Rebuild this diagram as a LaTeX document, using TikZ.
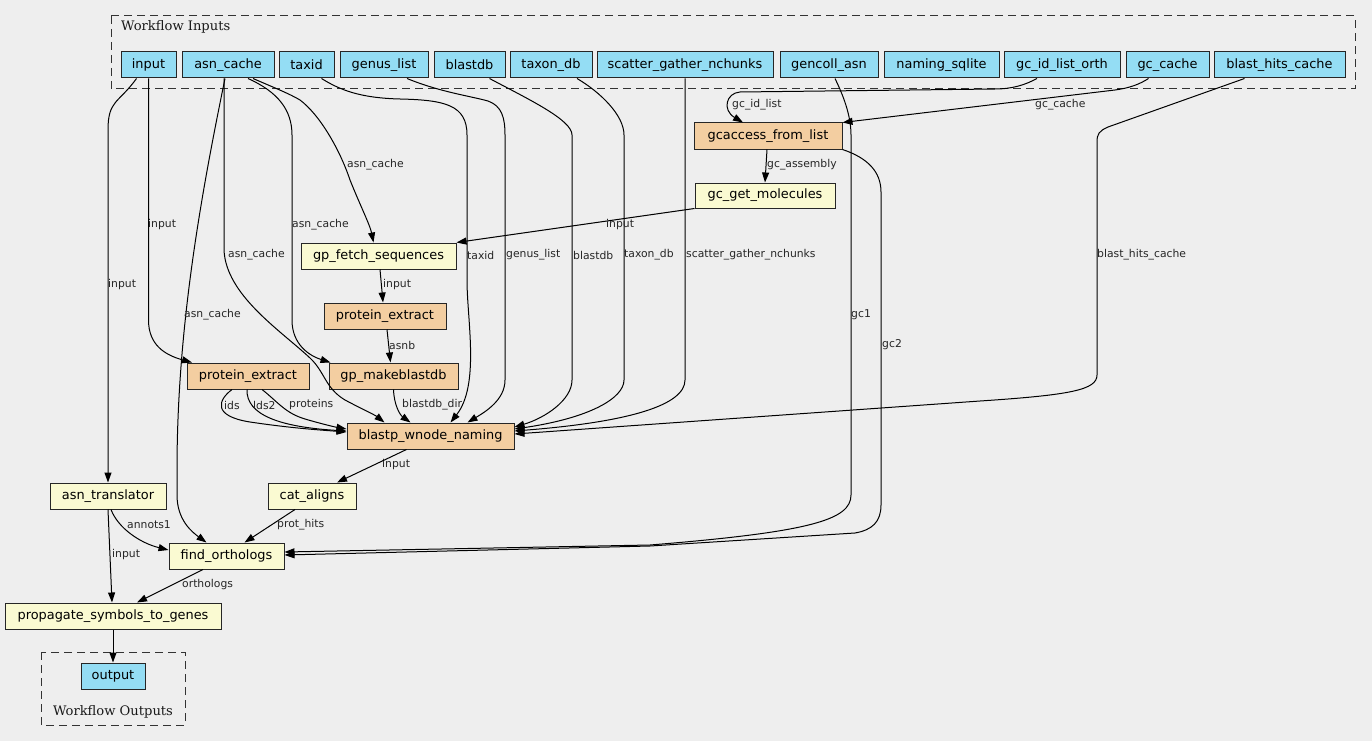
\documentclass[tikz,border=0pt]{standalone}
\usepackage{fontspec}
\setmainfont{DejaVu Sans}
\newfontfamily\serifl{DejaVu Serif}
\usetikzlibrary{arrows.meta,calc}
\definecolor{bgc}{HTML}{EEEEEE}
\definecolor{inpc}{HTML}{94DDF4}
\definecolor{stepc}{HTML}{F3CEA1}
\definecolor{toolc}{HTML}{FAFAD2}
\begin{document}
\begin{tikzpicture}[x=1pt,y=-1pt,
 box/.style={draw=black!85,line width=1pt,minimum height=26pt,inner sep=0pt,font=\fontsize{12.9}{15}\selectfont},
 inp/.style={box,fill=inpc},
 wf/.style={box,fill=stepc},
 tool/.style={box,fill=toolc},
 e/.style={draw=black,line width=1pt,-{Triangle[length=10pt,width=7pt]}},
 lab/.style={anchor=west,inner sep=0pt,font=\fontsize{10.8}{12}\selectfont,text=black!85},
 clus/.style={draw=black!80,line width=1pt,dash pattern=on 8pt off 5pt},
 cluslab/.style={inner sep=0pt,font=\serifl\fontsize{13.1}{15}\selectfont,text=black!90},
]
\fill[bgc] (0,0) rectangle (1372,741);
\useasboundingbox (0,0) rectangle (1372,741);

% clusters
\draw[clus] (111,16) rectangle (1355,89);
\node[cluslab,anchor=west] (inlab) at (121,27) {Workflow Inputs};
\draw[clus] (41,652) rectangle (185,725);
\node[cluslab] (outlab) at (113,712) {Workflow Outputs};

% inputs
\node[inp,minimum width=55pt] (input) at (148.5,65) {input};
\node[inp,minimum width=92pt] (asn_cache) at (228,65) {asn\_cache};
\node[inp,minimum width=55pt] (taxid) at (306.5,65) {taxid};
\node[inp,minimum width=88pt] (genus_list) at (384,65) {genus\_list};
\node[inp,minimum width=71pt] (blastdb) at (469.5,65) {blastdb};
\node[inp,minimum width=82pt] (taxon_db) at (551,65) {taxon\_db};
\node[inp,minimum width=176pt] (scatter) at (685,65) {scatter\_gather\_nchunks};
\node[inp,minimum width=98pt] (gencoll_asn) at (829,65) {gencoll\_asn};
\node[inp,minimum width=115pt] (naming_sqlite) at (941.5,65) {naming\_sqlite};
\node[inp,minimum width=116pt] (gc_id_list_orth) at (1062,65) {gc\_id\_list\_orth};
\node[inp,minimum width=83pt] (gc_cache) at (1167.5,65) {gc\_cache};
\node[inp,minimum width=131pt] (blast_hits_cache) at (1279.5,65) {blast\_hits\_cache};

% steps
\node[wf,minimum width=148pt] (gcaccess) at (768,136) {gcaccess\_from\_list};
\node[tool,minimum width=140pt,minimum height=25pt] (gc_get) at (765,195.5) {gc\_get\_molecules};
\node[tool,minimum width=155pt] (gp_fetch) at (378.5,256) {gp\_fetch\_sequences};
\node[wf,minimum width=122pt] (pe2) at (385,316) {protein\_extract};
\node[wf,minimum width=129pt] (gp_makeblastdb) at (393.5,376) {gp\_makeblastdb};
\node[wf,minimum width=122pt] (pe1) at (248,376) {protein\_extract};
\node[wf,minimum width=167pt] (blastp) at (430.5,436) {blastp\_wnode\_naming};
\node[tool,minimum width=116pt] (asn_translator) at (108,496) {asn\_translator};
\node[tool,minimum width=88pt] (cat_aligns) at (312,496) {cat\_aligns};
\node[tool,minimum width=115pt] (find_orthologs) at (226.5,556) {find\_orthologs};
\node[tool,minimum width=216pt] (propagate) at (113,616) {propagate\_symbols\_to\_genes};
\node[inp,minimum width=64pt] (output) at (113,676) {output};

% edges
\draw[e] ([xshift=-12]input.south) .. controls +(-18,25) and (108,100) .. (108,130) -- (asn_translator.north);
\draw[e] (input.south) -- (148.5,320) .. controls (148.5,345) and (165,355) .. ([xshift=-56]pe1.north);
\draw[e] ([xshift=-3]asn_cache.south) .. controls (200,200) and (177,330) .. (177,470) -- (177,495) .. controls (177,520) and (192,532) .. ([xshift=-20]find_orthologs.north);
\draw[e] ([xshift=-4]asn_cache.south) -- (224,250) .. controls (226,295) and (280,330) .. (310,358) .. controls (325,372) and (325,388) .. (345,400) .. controls (360,408) and (375,415) .. ([xshift=-46]blastp.north);
\draw[e] ([xshift=20]asn_cache.south) .. controls (278,92) and (292,110) .. (292,135) -- (292,320) .. controls (292,345) and (310,356) .. ([xshift=-63]gp_makeblastdb.north);
\draw[e] ([xshift=25]asn_cache.south) .. controls (275,88) and (290,94) .. (300,100) .. controls (320,115) and (340,150) .. (350,180) .. controls (360,205) and (370,225) .. ([xshift=-5]gp_fetch.north);
\draw[e] ([xshift=15]taxid.south) .. controls (340,90) and (360,98) .. (400,99) .. controls (445,100) and (467,105) .. (467,135) -- (467,280) .. controls (467,320) and (480,385) .. ([xshift=20]blastp.north);
\draw[e] ([xshift=23]genus_list.south) .. controls (440,92) and (470,96) .. (488,101) .. controls (502,106) and (505,118) .. (505,135) -- (505,380) .. controls (505,400) and (485,412) .. ([xshift=37]blastp.north);
\draw[e] ([xshift=20]blastdb.south) .. controls (530,100) and (572,120) .. (572,135) -- (572,380) .. controls (572,400) and (545,418) .. ([yshift=9]blastp.east);
\draw[e] ([xshift=26]taxon_db.south) .. controls (600,92) and (624,115) .. (624,135) -- (624,380) .. controls (624,398) and (590,418) .. ([yshift=7]blastp.east);
\draw[e] (scatter.south) -- (685,380) .. controls (685,405) and (630,422) .. ([yshift=5]blastp.east);
\draw[e] ([xshift=-35]blast_hits_cache.south) -- (1108,127) .. controls (1099,131) and (1097,134) .. (1097,142) -- (1097,375) .. controls (1097,390) and (1070,395) .. (980,401) -- ([yshift=2]blastp.east);
\draw[e] ([xshift=6]gencoll_asn.south) .. controls (843,95) and (851,115) .. (851,135) -- (851,495) .. controls (851,520) and (810,532) .. (650,545) -- ([yshift=4]find_orthologs.east);
\draw[e] (gcaccess.south east) .. controls (868,158) and (881,172) .. (881,192) -- (881,505) .. controls (881,522) and (872,530) .. (855,533) -- (650,546) -- ([yshift=1]find_orthologs.east);
\draw[e] ([xshift=-19]gc_cache.south) .. controls (1140,84) and (1130,88) .. (1115,90) -- (gcaccess.north east);
\draw[e] ([xshift=-25]gc_id_list_orth.south) .. controls (1025,85) and (1012,89) .. (995,89) -- (740,92) .. controls (726,93) and (722,110) .. ([xshift=-25]gcaccess.north);
\draw[e] ([xshift=-1]gcaccess.south) -- (gc_get.north);
\draw[e] (gc_get.south west) -- (gp_fetch.north east);
\draw[e] ([xshift=1.5]gp_fetch.south) -- ([xshift=-2]pe2.north);
\draw[e] ([xshift=2]pe2.south) -- ([xshift=-3]gp_makeblastdb.north);
\draw[e] ([xshift=-16]pe1.south) .. controls (218,400) and (212,416) .. (250,422) .. controls (290,428) and (320,430) .. ([yshift=4]blastp.west);
\draw[e] ([xshift=-1]pe1.south) .. controls (246,415) and (280,427) .. ([yshift=5]blastp.west);
\draw[e] ([xshift=14]pe1.south) .. controls (278,402) and (285,413) .. (305,419) .. controls (322,424) and (335,427) .. ([yshift=7]blastp.west);
\draw[e] (gp_makeblastdb.south) .. controls (394,405) and (400,415) .. ([xshift=-20]blastp.north);
\draw[e] ([xshift=-24]blastp.south) -- ([xshift=25]cat_aligns.north);
\draw[e] ([xshift=-17]cat_aligns.south) -- ([xshift=18]find_orthologs.north);
\draw[e] ([xshift=3]asn_translator.south) .. controls (118,528) and (140,543) .. ([yshift=6]find_orthologs.west);
\draw[e] (asn_translator.south) -- ([xshift=-1]propagate.north);
\draw[e] ([xshift=-23.5]find_orthologs.south) -- ([xshift=24]propagate.north);
\draw[e] (propagate.south) -- (output.north);

% edge labels
\node[lab] (l1) at (108,285) {input};
\node[lab] (l2) at (148,225) {input};
\node[lab] (l3) at (184,315) {asn\_cache};
\node[lab] (l4) at (228,255) {asn\_cache};
\node[lab] (l5) at (292,225) {asn\_cache};
\node[lab] (l6) at (347,165) {asn\_cache};
\node[lab] (l7) at (467,255) {taxid};
\node[lab] (l8) at (506,255) {genus\_list};
\node[lab] (l9) at (573,255) {blastdb};
\node[lab] (l10) at (624,255) {taxon\_db};
\node[lab] (l11) at (686,255) {scatter\_gather\_nchunks};
\node[lab] (l12) at (1097,255) {blast\_hits\_cache};
\node[lab] (l13) at (851,315) {gc1};
\node[lab] (l14) at (882,345) {gc2};
\node[lab] (l15) at (1035,105) {gc\_cache};
\node[lab] (l16) at (732,105) {gc\_id\_list};
\node[lab] (l17) at (767,165) {gc\_assembly};
\node[lab] (l18) at (606,225) {input};
\node[lab] (l19) at (383,285) {input};
\node[lab] (l20) at (389,345) {asnb};
\node[lab] (l21) at (224,405) {ids};
\node[lab] (l22) at (253,405) {lds2};
\node[lab] (l23) at (289,405) {proteins};
\node[lab] (l24) at (402,405) {blastdb\_dir};
\node[lab] (l25) at (382,465) {input};
\node[lab] (l26) at (277,525) {prot\_hits};
\node[lab] (l27) at (127,525) {annots1};
\node[lab] (l28) at (112,555) {input};
\node[lab] (l29) at (182,585) {orthologs};
\end{tikzpicture}
\end{document}
